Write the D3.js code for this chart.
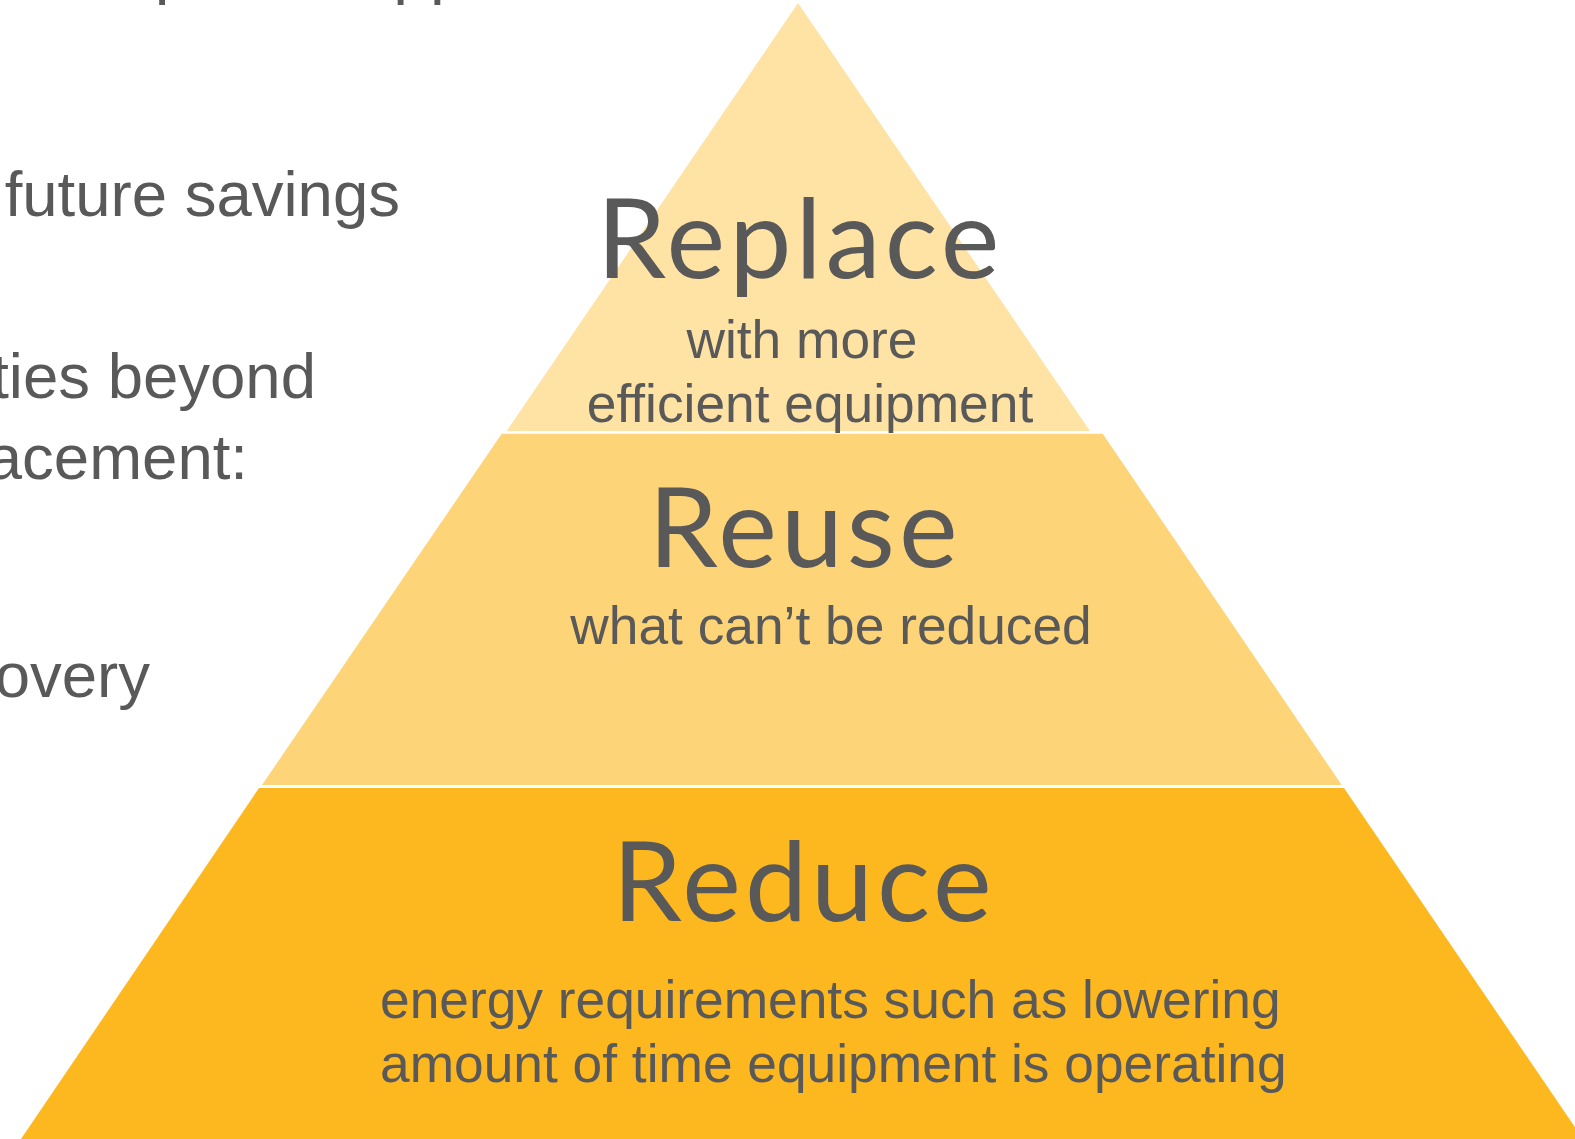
<!DOCTYPE html>
<html>
<head>
<meta charset="utf-8">
<script src="https://cdn.jsdelivr.net/npm/d3@7"></script>
<style>
  html, body { margin: 0; padding: 0; background: #fff; overflow: hidden; }
</style>
</head>
<body>
<div class="graph"></div>
<script>
// Tamaño de la página
const width = 1575;
const height = 1139;

// Niveles de la pirámide (de arriba a abajo)
const tierNames = ["Replace", "Reuse", "Reduce"];
const tierNotes = [
  ["with more", "efficient equipment"],
  ["what can’t be reduced"],
  ["energy requirements such as lowering", "amount of time equipment is operating"]
];
const tierColors = ["#fee3a4", "#fed478", "#fdb81f"];

// Texto lateral (cortado por el borde izquierdo, como en la diapositiva)
const sideLines = ["Estimate future savings", "Look for opportunities beyond", "equipment replacement:", "Heat recovery"];
const titleText = "Proposed Approach";

// Geometría de cada nivel: y superior/inferior y bordes izquierdo/derecho
const tiers = [
  { y0: 3, y1: 431, l0: 798, r0: 798, l1: 506.7, r1: 1090 },
  { y0: 433.7, y1: 785, l0: 501.7, r0: 1102.7, l1: 262, r1: 1341.7 },
  { y0: 788, y1: 1139, l0: 259, r0: 1344, l1: 21, r1: 1583 }
];

const svg = d3.select(".graph")
  .append("svg")
  .attr("width", width)
  .attr("height", height);

const line = d3.line();

svg.selectAll("path.tier")
  .data(tiers)
  .join("path")
  .attr("class", "tier")
  .attr("d", d => line([[d.l0, d.y0], [d.r0, d.y0], [d.r1, d.y1], [d.l1, d.y1]]) + "Z")
  .style("fill", (d, i) => tierColors[i]);

const textColor = "#595959";

// Títulos grandes
const nameLayout = [
  { x: 800, y: 278 },
  { x: 805, y: 567 },
  { x: 804, y: 921 }
];
svg.selectAll("text.name")
  .data(tierNames)
  .join("text")
  .attr("class", "name")
  .attr("x", (d, i) => nameLayout[i].x)
  .attr("y", (d, i) => nameLayout[i].y)
  .attr("text-anchor", "middle")
  .style("font-family", "Lato, 'Open Sans', sans-serif")
  .style("font-size", "111px")
  .style("letter-spacing", "4px")
  .style("fill", textColor)
  .text(d => d);

// Subtextos
const noteLayout = [
  [{ x: 802, y: 358, a: "middle" }, { x: 810, y: 422, a: "middle" }],
  [{ x: 831, y: 644, a: "middle" }],
  [{ x: 380, y: 1018, a: "start" }, { x: 380, y: 1082, a: "start" }]
];
tierNotes.forEach((lines, i) => {
  lines.forEach((t, j) => {
    const p = noteLayout[i][j];
    svg.append("text")
      .attr("x", p.x)
      .attr("y", p.y)
      .attr("text-anchor", p.a)
      .style("font-family", "'Liberation Sans', Arial, sans-serif")
      .style("font-size", "53.3px")
      .style("fill", textColor)
      .text(t);
  });
});

// Texto de la izquierda
const sideLayout = [
  { x: 400, y: 216 },
  { x: 316, y: 398 },
  { x: 248, y: 479 },
  { x: 150, y: 697 }
];
svg.selectAll("text.side")
  .data(sideLines)
  .join("text")
  .attr("class", "side")
  .attr("x", (d, i) => sideLayout[i].x)
  .attr("y", (d, i) => sideLayout[i].y)
  .attr("text-anchor", "end")
  .style("font-family", "'Liberation Sans', Arial, sans-serif")
  .style("font-size", "63.5px")
  .style("fill", textColor)
  .text(d => d);

// Título (casi fuera de la página, solo se ven los trazos descendentes)
svg.append("text")
  .attr("x", 52)
  .attr("y", -9)
  .style("font-family", "'Liberation Sans', Arial, sans-serif")
  .style("font-size", "66px")
  .style("fill", textColor)
  .text(titleText);
</script>
</body>
</html>
